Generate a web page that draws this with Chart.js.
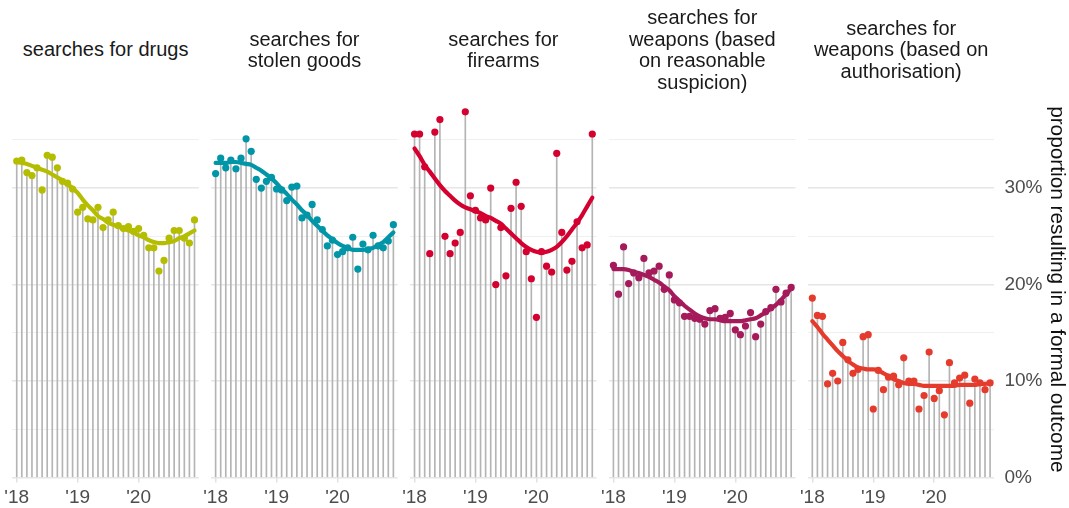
<!DOCTYPE html>
<html>
<head>
<meta charset="utf-8">
<script src="https://cdn.jsdelivr.net/npm/chart.js@4.4.1/dist/chart.umd.min.js"></script>
<style>
  body { margin: 0; background: #fff; width: 1069px; height: 508px; position: relative; overflow: hidden;
         font-family: "Liberation Sans", Arial, sans-serif; }
  canvas { position: absolute; top: 0; }
  .title { position: absolute; top: 0; height: 100px; width: 240px; display: flex; align-items: center;
           justify-content: center; text-align: center; font-size: 20px; line-height: 21.5px; color: #1a1a1a; }
</style>
</head>
<body>
<script>
// monthly values, Jan 2018 - Dec 2020 (36 months)
const xTicks = [0, 12, 24];
const xTickLabels = ["'18", "'19", "'20"];
const yGrid = [0, 5, 10, 15, 20, 25, 30, 35];

const drugs = [32.8,32.9,31.6,31.3,32.1,29.8,33.4,33.2,32.1,30.7,30.5,29.9,27.5,28.0,26.8,26.7,28.0,25.9,26.7,27.5,26.1,25.8,26.0,25.5,25.8,25.1,23.8,23.8,21.4,22.5,24.8,25.6,25.6,24.8,24.3,26.7];
const drugsTrend = [32.7,32.6,32.5,32.3,32.1,31.9,31.7,31.4,31.1,30.8,30.4,30.0,29.5,28.8,28.2,27.7,27.1,26.8,26.4,26.2,26.0,25.8,25.6,25.4,25.1,24.9,24.6,24.4,24.3,24.3,24.4,24.5,24.8,25.0,25.3,25.6];

const stolenGoods = [31.5,33.1,32.1,32.9,32.0,33.1,35.1,33.8,30.9,30.0,30.7,31.1,29.9,29.8,28.7,30.1,30.2,26.9,27.2,28.3,26.7,25.7,24.0,24.6,23.1,23.4,23.8,24.9,21.6,24.2,23.6,25.1,24.0,23.8,24.5,26.2];
const stolenTrend = [32.6,32.6,32.6,32.7,32.7,32.6,32.5,32.4,32.1,31.8,31.4,31.0,30.5,29.9,29.4,28.8,28.3,27.7,27.2,26.6,26.1,25.6,25.1,24.7,24.3,24.0,23.8,23.6,23.6,23.6,23.7,23.8,24.1,24.4,24.9,25.4];

const firearms = [35.6,35.6,32.2,23.2,35.8,37.1,25.0,23.2,24.3,25.4,37.9,29.2,27.7,26.9,26.7,30.0,20.0,25.9,20.9,27.9,30.6,28.1,23.4,20.6,16.6,23.4,21.9,21.3,33.6,25.4,21.5,22.4,26.5,23.8,24.1,35.6];
const firearmsTrend = [34.1,33.3,32.4,31.7,31.0,30.3,29.7,29.2,28.7,28.3,28.0,27.8,27.6,27.4,27.1,26.9,26.6,26.3,25.8,25.3,24.8,24.3,23.9,23.6,23.4,23.3,23.4,23.6,23.9,24.4,25.0,25.7,26.4,27.2,28.1,29.0];

const weaponsSuspicion = [22.0,19.0,23.9,20.1,21.2,20.7,22.7,21.2,21.4,21.9,19.5,21.0,18.4,18.1,16.7,16.7,16.5,16.4,15.9,17.3,17.5,16.5,16.6,17.0,15.3,14.8,15.7,17.1,14.6,15.9,17.2,17.6,19.5,18.2,19.1,19.7];
const suspicionTrend = [21.6,21.6,21.6,21.5,21.3,21.2,21.0,20.8,20.5,20.2,19.8,19.4,18.8,18.3,17.8,17.4,17.0,16.7,16.5,16.4,16.4,16.3,16.2,16.2,16.2,16.2,16.3,16.4,16.5,16.8,17.1,17.5,17.9,18.4,19.0,19.6];

const weaponsAuthorisation = [18.6,16.8,16.7,9.7,10.8,10.0,14.0,12.2,10.8,11.2,14.6,14.8,7.1,11.1,9.1,10.4,10.5,9.6,12.4,10.0,10.0,7.1,8.5,13.0,8.2,9.0,6.5,11.9,9.8,10.3,10.6,7.7,10.2,9.8,9.1,9.8];
const authorisationTrend = [16.2,15.6,14.9,14.3,13.7,13.1,12.6,12.1,11.7,11.4,11.3,11.2,11.2,11.1,10.8,10.5,10.2,10.0,9.8,9.7,9.7,9.6,9.5,9.5,9.5,9.5,9.5,9.5,9.5,9.6,9.6,9.6,9.6,9.7,9.7,9.8];

const titles = [
  ["searches for drugs"],
  ["searches for", "stolen goods"],
  ["searches for", "firearms"],
  ["searches for", "weapons (based", "on reasonable", "suspicion)"],
  ["searches for", "weapons (based on", "authorisation)"]
];
const values = [drugs, stolenGoods, firearms, weaponsSuspicion, weaponsAuthorisation];
const trends = [drugsTrend, stolenTrend, firearmsTrend, suspicionTrend, authorisationTrend];
const colors = ["#b5bd00", "#0096a7", "#d4002f", "#a51a5a", "#e53b2d"];

const FONT = '"Liberation Sans", Arial, sans-serif';
Chart.defaults.font.family = FONT;

// layout
const plotLeft0 = 12.4, panelStep = 198.9, plotWidth = 186.4;
const plotTop = 101.2, plotBottom = 477.5, W = 1069, H = 508;

function pts(arr) { return arr.map((v, i) => ({ x: i, y: v })); }

values.forEach((vals, p) => {
  const last = p === values.length - 1;
  const left = plotLeft0 + p * panelStep;
  const cLeft = Math.floor(left) - 25;
  const padL = left - cLeft;
  const cWidth = last ? W - cLeft : Math.ceil(padL + plotWidth + 25);
  const padR = last ? 0 : cWidth - padL - plotWidth;
  const axisW = last ? W - (left + plotWidth) : 0;

  const t = document.createElement("div");
  t.className = "title";
  t.style.left = (left + plotWidth / 2 - 120) + "px";
  t.innerHTML = titles[p].join("<br>");
  document.body.appendChild(t);

  const cv = document.createElement("canvas");
  cv.width = cWidth; cv.height = H;
  cv.style.left = cLeft + "px";
  document.body.appendChild(cv);

  new Chart(cv, {
    type: "line",
    data: {
      datasets: [
        { type: "line", data: pts(trends[p]), borderColor: colors[p], borderWidth: 4.2, pointRadius: 0,
          cubicInterpolationMode: "monotone", borderCapStyle: "round", order: 1, clip: false },
        { type: "line", data: pts(vals), showLine: false, pointRadius: 3.6, pointBackgroundColor: colors[p],
          pointBorderWidth: 0, order: 2, clip: false },
        { type: "bar", data: pts(vals), backgroundColor: "#b4b4b4", barThickness: 1, order: 3 }
      ]
    },
    options: {
      responsive: false, animation: false, events: [], devicePixelRatio: 1,
      layout: { padding: { left: padL, right: padR, top: plotTop, bottom: 0 } },
      plugins: { legend: { display: false }, tooltip: { enabled: false } },
      scales: {
        x: {
          type: "linear", min: -0.85, max: 35.85, offset: false,
          afterBuildTicks: s => { s.ticks = xTicks.map(v => ({ value: v })); },
          afterFit: s => { s.height = H - plotBottom; },
          grid: { display: true, offset: false, drawOnChartArea: false, drawTicks: true, tickLength: 5,
                  color: "#e2e2e2", lineWidth: 1.5 },
          border: { display: false },
          ticks: { callback: v => xTickLabels[xTicks.indexOf(v)], color: "#4d4d4d",
                   font: { size: 19 }, padding: 4, maxRotation: 0, autoSkip: false }
        },
        y: {
          position: last ? "right" : "left", min: 0, max: 39,
          afterBuildTicks: s => { s.ticks = yGrid.map(v => ({ value: v })); },
          afterFit: s => { s.width = axisW; },
          grid: { drawTicks: false, color: c => c.tick.value % 10 === 0 ? "#e6e6e6" : "#f0f0f0",
                  lineWidth: c => c.tick.value % 10 === 0 ? 1.4 : 1 },
          border: { display: false },
          ticks: { display: last, callback: v => v % 10 === 0 ? v + "%" : "", color: "#4d4d4d",
                   font: { size: 19 }, padding: 10 },
          title: { display: last, text: "proportion resulting in a formal outcome", color: "#111",
                   font: { size: 20.8 }, padding: { top: 0, bottom: 2 } }
        }
      }
    }
  });
});
</script>
</body>
</html>
